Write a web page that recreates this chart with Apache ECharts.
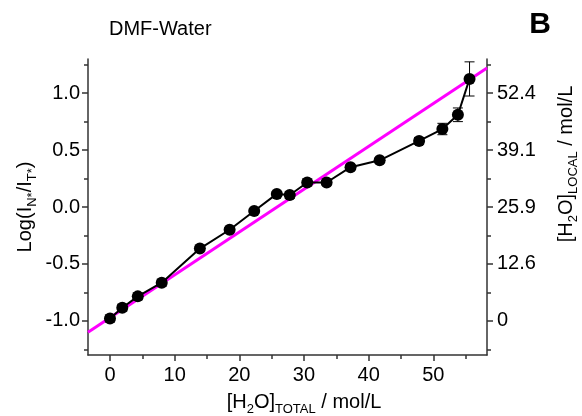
<!DOCTYPE html>
<html>
<head>
<meta charset="UTF-8">
<style>
	html, body { margin: 0; padding: 0; background: #fff; }
	#main { width: 582px; height: 416px; }
</style>
</head>
<body>
	<div id="main"></div>
	<script src="https://cdn.jsdelivr.net/npm/echarts@6/dist/echarts.min.js"></script>
<script>
	// measured points: total water (mol/L) vs log ratio
	var xTotal = [0, 1.9, 4.3, 8.0, 13.9, 18.5, 22.3, 25.8, 27.8, 30.5, 33.5, 37.2, 41.7, 47.8, 51.4, 53.8, 55.6];
	var logRatio = [-0.98, -0.885, -0.785, -0.665, -0.365, -0.2, -0.035, 0.115, 0.105, 0.215, 0.215, 0.35, 0.41, 0.58, 0.685, 0.81, 1.125];
	var logErr = [0.03, 0.03, 0.03, 0.03, 0.02, 0.02, 0.02, 0.02, 0.03, 0.03, 0.02, 0.02, 0.02, 0.03, 0.05, 0.06, 0.15];
	// magenta fit line, two ends
	var fitX = [-3.4, 58.3];
	var fitY = [-1.10, 1.22];
	// ticks
	var xMajor = [0, 10, 20, 30, 40, 50];
	var xMinor = [5, 15, 25, 35, 45, 55];
	var yMajor = [-1.0, -0.5, 0.0, 0.5, 1.0];
	var yMinor = [-1.25, -0.75, -0.25, 0.25, 0.75, 1.25];
	var rightLabels = ['0', '12.6', '25.9', '39.1', '52.4'];

	var font = 'Liberation Sans, Arial, sans-serif';
	var axisColor = '#333';

	var myChart = echarts.init(document.getElementById('main'));

	function pairs(a, b) {
		var out = [];
		for (var i = 0; i < a.length; i++) out.push([a[i], b[i]]);
		return out;
	}
	var errData = [];
	for (var i = 0; i < xTotal.length; i++) {
		errData.push([xTotal[i], logRatio[i] - logErr[i], logRatio[i] + logErr[i]]);
	}

	var xBase = { type: 'value', min: -3.4, max: 58.3, splitLine: { show: false }, gridIndex: 0 };
	var yBase = { type: 'value', min: -1.3, max: 1.3, splitLine: { show: false }, gridIndex: 0 };
	var lineOn = { show: true, onZero: false, lineStyle: { color: axisColor, width: 1.5 } };
	var lineOff = { show: false, onZero: false };

	var richName = {
		a: { fontFamily: font, fontSize: 20, color: '#000', lineHeight: 27 },
		s: { fontFamily: font, fontSize: 13, color: '#000', lineHeight: 13, verticalAlign: 'bottom' }
	};

	myChart.setOption({
		animation: false,
		backgroundColor: '#fff',
		grid: { left: 88, right: 95, top: 59, bottom: 61, containLabel: false },
		xAxis: [
			Object.assign({}, xBase, {
				position: 'bottom',
				axisLine: lineOn,
				axisTick: { show: true, length: 6, customValues: xMajor, lineStyle: { color: axisColor, width: 1.5 } },
				axisLabel: { customValues: xMajor, margin: 10, fontFamily: font, fontSize: 20, color: '#000' }
			}),
			Object.assign({}, xBase, {
				position: 'bottom',
				axisLine: lineOff,
				axisTick: { show: true, length: 4, customValues: xMinor, lineStyle: { color: axisColor, width: 1.5 } },
				axisLabel: { show: false }
			})
		],
		yAxis: [
			Object.assign({}, yBase, {
				position: 'left',
				axisLine: lineOn,
				axisTick: { show: true, length: 6, customValues: yMajor, lineStyle: { color: axisColor, width: 1.5 } },
				axisLabel: { customValues: yMajor, margin: 8, fontFamily: font, fontSize: 20, color: '#000',
					formatter: function (v) { return v.toFixed(1); } }
			}),
			Object.assign({}, yBase, {
				position: 'left',
				axisLine: lineOff,
				axisTick: { show: true, length: 4, customValues: yMinor, lineStyle: { color: axisColor, width: 1.5 } },
				axisLabel: { show: false }
			}),
			Object.assign({}, yBase, {
				position: 'right',
				axisLine: lineOn,
				axisTick: { show: true, length: 6, customValues: yMajor, lineStyle: { color: axisColor, width: 1.5 } },
				axisLabel: { customValues: yMajor, margin: 10, fontFamily: font, fontSize: 20, color: '#000',
					formatter: function (v) { return rightLabels[yMajor.indexOf(v)]; } }
			}),
			Object.assign({}, yBase, {
				position: 'right',
				axisLine: lineOff,
				axisTick: { show: true, length: 4, customValues: yMinor, lineStyle: { color: axisColor, width: 1.5 } },
				axisLabel: { show: false }
			})
		],
		graphic: [
			{ type: 'text', x: 109, y: 29, style: { text: 'DMF-Water', fontFamily: font, fontSize: 20, fill: '#000', verticalAlign: 'middle' } },
			{ type: 'text', x: 540, y: 25, style: { text: 'B', fontFamily: font, fontSize: 30, fontWeight: 'bold', fill: '#000', align: 'center', verticalAlign: 'middle' } },
			{ type: 'text', x: 25, y: 207, rotation: Math.PI / 2,
				style: { text: '{a|Log(I}{s|N*}{a|/I}{s|T*}{a|)}', rich: richName, align: 'center', verticalAlign: 'middle' } },
			{ type: 'text', x: 566, y: 164, rotation: Math.PI / 2,
				style: { text: '{a|[H}{s|2}{a|O]}{s|LOCAL}{a| / mol/L}', rich: richName, align: 'center', verticalAlign: 'middle' } },
			{ type: 'text', x: 304, y: 402,
				style: { text: '{a|[H}{s|2}{a|O]}{s|TOTAL}{a| / mol/L}', rich: richName, align: 'center', verticalAlign: 'middle' } }
		],
		series: [
			{
				type: 'line',
				xAxisIndex: 0, yAxisIndex: 0,
				data: pairs(fitX, fitY),
				symbol: 'none',
				lineStyle: { color: '#ff00ff', width: 3 },
				z: 2
			},
			{
				type: 'custom',
				xAxisIndex: 0, yAxisIndex: 0,
				data: errData,
				renderItem: function (params, api) {
					var x = api.value(0);
					var lo = api.coord([x, api.value(1)]);
					var hi = api.coord([x, api.value(2)]);
					var w = 5;
					var st = { stroke: '#000', lineWidth: 1 };
					return {
						type: 'group',
						children: [
							{ type: 'line', shape: { x1: lo[0], y1: lo[1], x2: hi[0], y2: hi[1] }, style: st },
							{ type: 'line', shape: { x1: lo[0] - w, y1: lo[1], x2: lo[0] + w, y2: lo[1] }, style: st },
							{ type: 'line', shape: { x1: hi[0] - w, y1: hi[1], x2: hi[0] + w, y2: hi[1] }, style: st }
						]
					};
				},
				z: 3
			},
			{
				type: 'line',
				xAxisIndex: 0, yAxisIndex: 0,
				data: pairs(xTotal, logRatio),
				symbol: 'circle',
				symbolSize: 12,
				itemStyle: { color: '#000' },
				lineStyle: { color: '#000', width: 2 },
				z: 4
			}
		]
	});
</script>
</body>
</html>
